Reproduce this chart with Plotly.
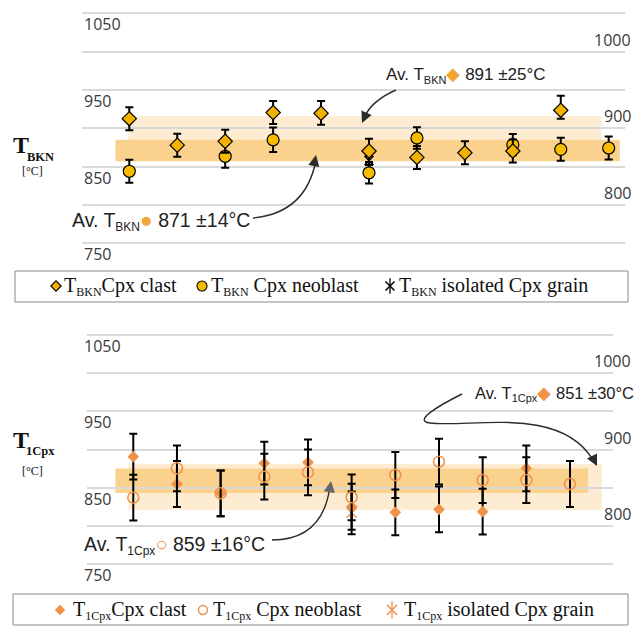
import plotly.graph_objects as go

W, H = 641, 628

# ---------------- upper panel: T_BKN ----------------
BKN_CLAST_X = [1, 2, 3, 4, 5, 6, 7, 8, 9, 10]
BKN_CLAST_T = [912.6, 878.0, 883.0, 920.5, 919.6, 870.4, 862.0, 868.0, 870.4, 923.5]
BKN_CLAST_ERR_UP = [15, 15, 15, 15, 16, 16, 15, 15, 15, 19]
BKN_CLAST_ERR_DN = [15, 15, 15, 15, 15, 15, 15, 15, 15, 11]

BKN_NEO_X = [1, 3, 4, 6, 7, 9, 10, 11]
BKN_NEO_T = [844.0, 863.5, 885.0, 842.0, 887.4, 878.7, 872.6, 874.3]
BKN_NEO_ERR = [15, 15, 16, 14, 14, 14, 15, 15]

BKN_ISO_X = [6]
BKN_ISO_T = [858.0]
BKN_ISO_ERR = [6]

BKN_NEO_AVG, BKN_NEO_SD = 871, 14
BKN_CLAST_AVG, BKN_CLAST_SD = 891, 25

# ---------------- lower panel: T_1Cpx ----------------
CPX_CLAST_X = [1, 2, 3, 4, 5, 6, 7, 8, 9, 10]
CPX_CLAST_T = [890.6, 854.8, 842.6, 882.0, 883.2, 825.0, 817.7, 821.5, 818.5, 875.4]
CPX_CLAST_ERR = [30, 30, 30, 28, 30, 30, 30, 30, 30, 30]

CPX_NEO_X = [1, 2, 3, 4, 5, 6, 7, 8, 9, 10, 11]
CPX_NEO_T = [836.9, 875.4, 842.6, 864.4, 870.1, 837.4, 866.6, 884.0, 860.0, 860.0, 854.8]
CPX_NEO_ERR = [30, 30, 30, 30, 30, 30, 30, 30, 30, 30, 30]

CPX_ISO_X = [6]
CPX_ISO_T = [817.0]
CPX_ISO_ERR = [28]

CPX_NEO_AVG, CPX_NEO_SD = 859, 16
CPX_CLAST_AVG, CPX_CLAST_SD = 851, 30

LEFT_TICKS = [750, 850, 950, 1050]
RIGHT_TICKS = [800, 900, 1000]

# ---------------- styling ----------------
GOLD_D = "#F4B200"
GOLD_C = "#F7BC00"
ORANGE = "#F0924A"
BAND_DARK = "#FAD18D"
BAND_LIGHT = "#FDEBD2"
GRID = "#D9D9D9"
TICK_FONT = dict(family="Open Sans", size=16, color="#3a3a3a")
SANS = "Liberation Sans, Arial"
SERIF = "Liberation Serif"

fig = go.Figure()

ERR_STYLE = dict(color="black", thickness=2, width=4)


def err(sym_vals=None, up=None, dn=None):
    if sym_vals is not None:
        return dict(type="data", array=sym_vals, visible=True, **ERR_STYLE)
    return dict(type="data", symmetric=False, array=up, arrayminus=dn, visible=True, **ERR_STYLE)


# upper panel markers
fig.add_trace(go.Scatter(x=BKN_ISO_X, y=BKN_ISO_T, mode="markers", xaxis="x", yaxis="y",
                         error_y=err(BKN_ISO_ERR),
                         marker=dict(symbol="x-thin-open", size=9, color="black",
                                     line=dict(color="black", width=1.5))))
fig.add_trace(go.Scatter(x=BKN_NEO_X, y=BKN_NEO_T, mode="markers", xaxis="x", yaxis="y",
                         error_y=err(BKN_NEO_ERR),
                         marker=dict(symbol="circle", size=12, color=GOLD_C, line=dict(color="black", width=1.2))))
fig.add_trace(go.Scatter(x=BKN_CLAST_X, y=BKN_CLAST_T, mode="markers", xaxis="x", yaxis="y",
                         error_y=err(up=BKN_CLAST_ERR_UP, dn=BKN_CLAST_ERR_DN),
                         marker=dict(symbol="diamond", size=11, color=GOLD_D, line=dict(color="black", width=1.2))))

# lower panel markers
fig.add_trace(go.Scatter(x=CPX_ISO_X, y=CPX_ISO_T, mode="markers", xaxis="x2", yaxis="y2",
                         error_y=err(CPX_ISO_ERR),
                         marker=dict(symbol="x-thin-open", size=10, color=ORANGE,
                                     line=dict(color=ORANGE, width=1.5))))
fig.add_trace(go.Scatter(x=CPX_CLAST_X, y=CPX_CLAST_T, mode="markers", xaxis="x2", yaxis="y2",
                         error_y=err(CPX_CLAST_ERR),
                         marker=dict(symbol="diamond", size=9, color=ORANGE, line=dict(width=0))))
fig.add_trace(go.Scatter(x=CPX_NEO_X, y=CPX_NEO_T, mode="markers", xaxis="x2", yaxis="y2",
                         error_y=err(CPX_NEO_ERR),
                         marker=dict(symbol="circle-open", size=11, color=ORANGE, line=dict(color=ORANGE, width=1.5))))

# ---------------- average bands ----------------
shapes = []
shapes.append(dict(type="rect", xref="x", yref="y", x0=0.98, x1=10.85,
                   y0=BKN_CLAST_AVG - BKN_CLAST_SD, y1=BKN_CLAST_AVG + BKN_CLAST_SD,
                   fillcolor=BAND_LIGHT, line=dict(width=0), layer="below"))
shapes.append(dict(type="rect", xref="x", yref="y", x0=0.71, x1=11.23,
                   y0=BKN_NEO_AVG - BKN_NEO_SD, y1=BKN_NEO_AVG + BKN_NEO_SD,
                   fillcolor=BAND_DARK, line=dict(width=0), layer="below"))
shapes.append(dict(type="rect", xref="x2", yref="y2", x0=0.89, x1=11.73,
                   y0=CPX_CLAST_AVG - CPX_CLAST_SD, y1=CPX_CLAST_AVG + CPX_CLAST_SD,
                   fillcolor=BAND_LIGHT, line=dict(width=0), layer="below"))
shapes.append(dict(type="rect", xref="x2", yref="y2", x0=0.59, x1=11.41,
                   y0=CPX_NEO_AVG - CPX_NEO_SD, y1=CPX_NEO_AVG + CPX_NEO_SD,
                   fillcolor=BAND_DARK, line=dict(width=0), layer="below"))

# ---------------- curved leader lines (pixel overlay) ----------------
LINE_COL = "#2b2b2b"
curves = [
    "M253,218 Q306,213 316,160",
    "M396,90 Q371,101 364,118",
    "M272,540 Q323,540 330,486",
    "M462,394 C440,405 412,421 430,423 C470,428 560,405 593,460",
]
for p in curves:
    shapes.append(dict(type="path", xref="x3", yref="y3", path=p, line=dict(color=LINE_COL, width=1.4)))

# legend boxes
shapes.append(dict(type="rect", xref="x3", yref="y3", x0=15, x1=628, y0=271, y1=302,
                   line=dict(color="#8a8a8a", width=1), fillcolor="rgba(0,0,0,0)"))
shapes.append(dict(type="rect", xref="x3", yref="y3", x0=13, x1=628, y0=594, y1=625,
                   line=dict(color="#8a8a8a", width=1), fillcolor="rgba(0,0,0,0)"))

annotations = []

# arrow heads
heads = [
    (316, 155, -2, 10, LINE_COL),
    (362, 123, 4, -9, LINE_COL),
    (331, 481, -1.5, 10, "#666666"),
    (597, 466, -4.5, -9, LINE_COL),
]
for x, y, ax, ay, c in heads:
    annotations.append(dict(xref="x3", yref="y3", x=x, y=y, ax=ax, ay=ay, text="",
                            showarrow=True, arrowhead=2, arrowsize=1.6, arrowwidth=1.4, arrowcolor=c))

# tick labels
for yref in ("y", "y2"):
    for t in LEFT_TICKS:
        annotations.append(dict(xref="x3", yref=yref, x=82, y=t, text=str(t), showarrow=False,
                                xanchor="left", yanchor="top", font=TICK_FONT, yshift=2))
    for t in RIGHT_TICKS:
        annotations.append(dict(xref="x3", yref=yref, x=633, y=t, text=str(t), showarrow=False,
                                xanchor="right", yanchor="bottom", font=TICK_FONT, yshift=-1))

# axis titles
for (ty, sub, subx, suby, uy) in [(145, "BKN", 40, 157, 171), (440, "1Cpx", 40, 451, 471)]:
    annotations.append(dict(xref="x3", yref="y3", x=21, y=ty, text="<b>T</b>", showarrow=False,
                            font=dict(family=SERIF, size=24, color="#111")))
    annotations.append(dict(xref="x3", yref="y3", x=subx, y=suby, text="<b>%s</b>" % sub, showarrow=False,
                            font=dict(family=SERIF, size=12.5, color="#111")))
    annotations.append(dict(xref="x3", yref="y3", x=32, y=uy, text="[°C]", showarrow=False,
                            font=dict(family=SERIF, size=12, color="#111")))


# average labels
def avg_text(sub, glyph, color, avg, sd, subsize, glyphsize):
    return ("Av. T<sub><span style='font-size:%dpx'>%s</span></sub>"
            "<span style='color:%s;font-size:%dpx'>%s</span> %d ±%d°C"
            % (subsize, sub, color, glyphsize, glyph, avg, sd))


annotations += [
    dict(xref="x3", yref="y3", x=70, y=221, xanchor="left", yanchor="middle", showarrow=False,
         text=avg_text("BKN", "●", "#F2A53A", BKN_NEO_AVG, BKN_NEO_SD, 12, 21),
         font=dict(family=SANS, size=19.5, color="#222")),
    dict(xref="x3", yref="y3", x=384, y=75, xanchor="left", yanchor="middle", showarrow=False,
         text=avg_text("BKN", "◆", "#F2A530", BKN_CLAST_AVG, BKN_CLAST_SD, 11, 18),
         font=dict(family=SANS, size=17, color="#222")),
    dict(xref="x3", yref="y3", x=82, y=545, xanchor="left", yanchor="middle", showarrow=False,
         text=avg_text("1Cpx", "○", ORANGE, CPX_NEO_AVG, CPX_NEO_SD, 12, 20),
         font=dict(family=SANS, size=19.5, color="#222")),
    dict(xref="x3", yref="y3", x=473, y=393, xanchor="left", yanchor="middle", showarrow=False,
         text=avg_text("1Cpx", "◆", ORANGE, CPX_CLAST_AVG, CPX_CLAST_SD, 11, 18),
         font=dict(family=SANS, size=16.5, color="#222")),
]

# ---------------- legends ----------------
LEG_FONT = dict(family=SERIF, size=20, color="#111")


def leg_text(sub, rest):
    return "T<sub><span style='font-size:12px'>%s</span></sub>%s" % (sub, rest)


legend_rows = [
    (286, "BKN", [(56, "diamond", GOLD_D, "black", 8, 62, "Cpx clast"),
                  (202, "circle", GOLD_C, "black", 10, 209, " Cpx neoblast"),
                  (390, "x-thin-open", "black", "black", 9, 397, " isolated Cpx grain")]),
    (610, "1Cpx", [(60, "diamond", ORANGE, ORANGE, 8, 71, "Cpx clast"),
                   (203, "circle-open", ORANGE, ORANGE, 9, 211, " Cpx neoblast"),
                   (392, "x-thin-open", ORANGE, ORANGE, 10, 402, " isolated Cpx grain")]),
]
for ly, sub, items in legend_rows:
    for mx, sym, fill, edge, size, tx, rest in items:
        lw = 1.5 if "open" in sym else (1.1 if edge == "black" else 0)
        fig.add_trace(go.Scatter(x=[mx], y=[ly], mode="markers", xaxis="x3", yaxis="y3",
                                 marker=dict(symbol=sym, size=size, color=fill, line=dict(color=edge, width=lw))))
        if sym == "x-thin-open":
            fig.add_trace(go.Scatter(x=[mx], y=[ly], mode="markers", xaxis="x3", yaxis="y3",
                                     marker=dict(symbol="line-ns-open", size=size + 2, color=edge,
                                                 line=dict(color=edge, width=1.3))))
        annotations.append(dict(xref="x3", yref="y3", x=tx, y=ly, xanchor="left", yanchor="middle",
                                showarrow=False, text=leg_text(sub, rest), font=LEG_FONT))


# ---------------- axes ----------------
def px_x(p):
    return p / W


def px_y(p):
    return 1 - p / H


hidden_x = dict(showgrid=False, zeroline=False, showline=False, showticklabels=False, ticks="", fixedrange=True)
temp_y = dict(range=[740, 1060], dtick=50, tick0=750, showgrid=True, gridcolor=GRID, gridwidth=1.6,
              zeroline=False, showline=False, showticklabels=False, ticks="", fixedrange=True)

fig.update_layout(
    width=W, height=H, margin=dict(l=0, r=0, t=0, b=0),
    paper_bgcolor="white", plot_bgcolor="rgba(0,0,0,0)", showlegend=False,
    xaxis=dict(domain=[px_x(82), px_x(625)], range=[0.0134, 11.34], anchor="y", **hidden_x),
    yaxis=dict(domain=[px_y(251.0), px_y(5.6)], anchor="x", **temp_y),
    xaxis2=dict(domain=[px_x(87), px_x(613)], range=[-0.06, 11.985], anchor="y2", **hidden_x),
    yaxis2=dict(domain=[px_y(571.6), px_y(327.4)], anchor="x2", **temp_y),
    xaxis3=dict(domain=[0, 1], range=[0, W], anchor="y3", visible=False, fixedrange=True),
    yaxis3=dict(domain=[0, 1], range=[H, 0], anchor="x3", visible=False, fixedrange=True),
    shapes=shapes, annotations=annotations,
)

fig.write_html("out.html")
